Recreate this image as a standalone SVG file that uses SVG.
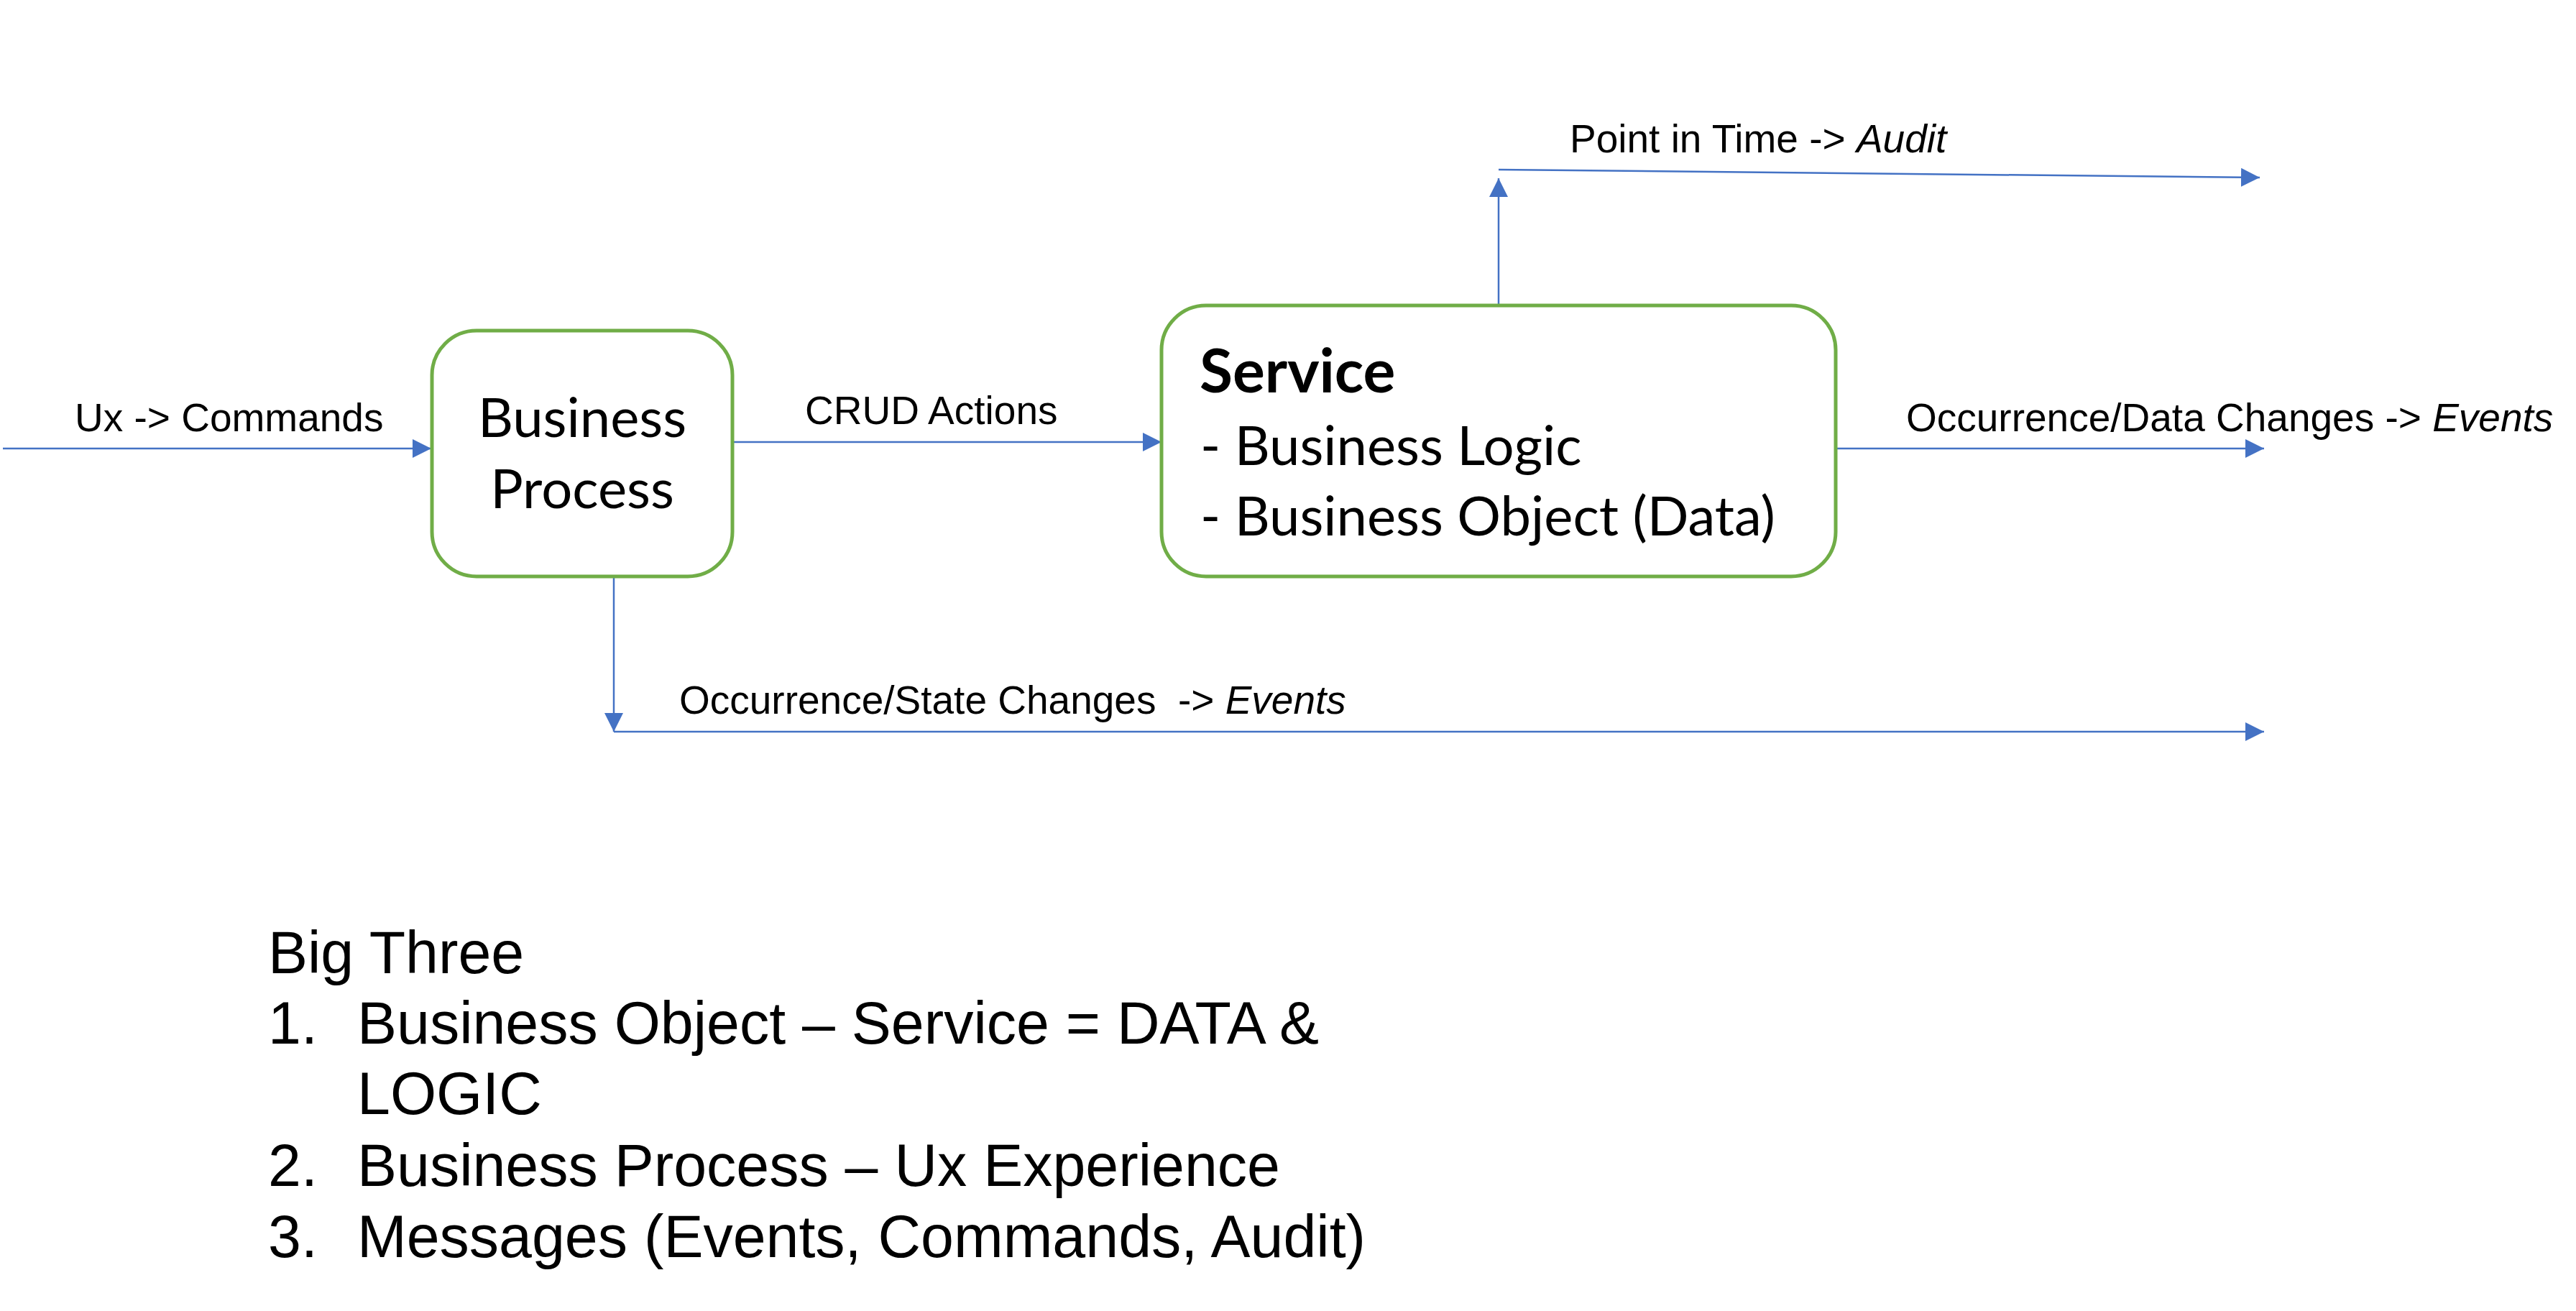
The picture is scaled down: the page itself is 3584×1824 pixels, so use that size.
<svg xmlns="http://www.w3.org/2000/svg" width="3584" height="1824" viewBox="0 0 3584 1824">
<style>
.node{fill:#fff;stroke:#70AD47;stroke-width:5}
.conn{fill:none;stroke:#4472C4;stroke-width:2.5}
.lbl{font-family:"Liberation Sans",Arial,sans-serif;font-size:55px;fill:#000}
.ntx{font-family:Lato,"Noto Sans",sans-serif;font-size:76px;fill:#000}
.ttl{font-family:Lato,"Noto Sans",sans-serif;font-size:84px;font-weight:bold;fill:#000}
.big{font-family:"Liberation Sans",Arial,sans-serif;font-size:82.5px;fill:#000}
</style>
<defs>
<marker id="ah" markerUnits="userSpaceOnUse" markerWidth="26" markerHeight="26" refX="26" refY="13" orient="auto" viewBox="0 0 26 26">
<path d="M0,0 L26,13 L0,26 z" fill="#4472C4"/>
</marker>
</defs>
<rect width="3584" height="1824" fill="#fff"/>
<g id="connectors">
<line class="conn" x1="4" y1="624" x2="600" y2="624" marker-end="url(#ah)"/>
<line class="conn" x1="1019" y1="615" x2="1616" y2="615" marker-end="url(#ah)"/>
<line class="conn" x1="2085" y1="424" x2="2085" y2="248" marker-end="url(#ah)"/>
<line class="conn" x1="2085" y1="236" x2="3144" y2="247" marker-end="url(#ah)"/>
<line class="conn" x1="2554" y1="624" x2="3150" y2="624" marker-end="url(#ah)"/>
<line class="conn" x1="854" y1="803" x2="854" y2="1018" marker-end="url(#ah)"/>
<line class="conn" x1="854" y1="1018" x2="3150" y2="1018" marker-end="url(#ah)"/>
<text class="lbl" x="104" y="600">Ux -&gt; Commands</text>
<text class="lbl" x="1120" y="590">CRUD Actions</text>
<text class="lbl" x="2184" y="212">Point in Time -&gt; <tspan font-style="italic">Audit</tspan></text>
<text class="lbl" x="2652" y="600">Occurrence/Data Changes -&gt; <tspan font-style="italic">Events</tspan></text>
<text class="lbl" x="945" y="993" xml:space="preserve">Occurrence/State Changes  -&gt; <tspan font-style="italic">Events</tspan></text>
</g>
<g id="business-process">
<rect class="node" x="601" y="460" width="418" height="342" rx="62" ry="62"/>
<text class="ntx" x="810" y="608" text-anchor="middle">Business</text>
<text class="ntx" x="810" y="707" text-anchor="middle">Process</text>
</g>
<g id="service">
<rect class="node" x="1616" y="425" width="938" height="377" rx="62" ry="62"/>
<text class="ttl" x="1669" y="546">Service</text>
<text class="ntx" x="1670" y="647">- Business Logic</text>
<text class="ntx" x="1670" y="745">- Business Object (Data)</text>
</g>
<g id="big-three">
<text class="big" x="373" y="1354">Big Three</text>
<text class="big" x="373" y="1452">1.</text>
<text class="big" x="497" y="1452">Business Object – Service = DATA &amp;</text>
<text class="big" x="497" y="1550">LOGIC</text>
<text class="big" x="373" y="1650">2.</text>
<text class="big" x="497" y="1650">Business Process – Ux Experience</text>
<text class="big" x="373" y="1749">3.</text>
<text class="big" x="497" y="1749">Messages (Events, Commands, Audit)</text>
</g>
</svg>
